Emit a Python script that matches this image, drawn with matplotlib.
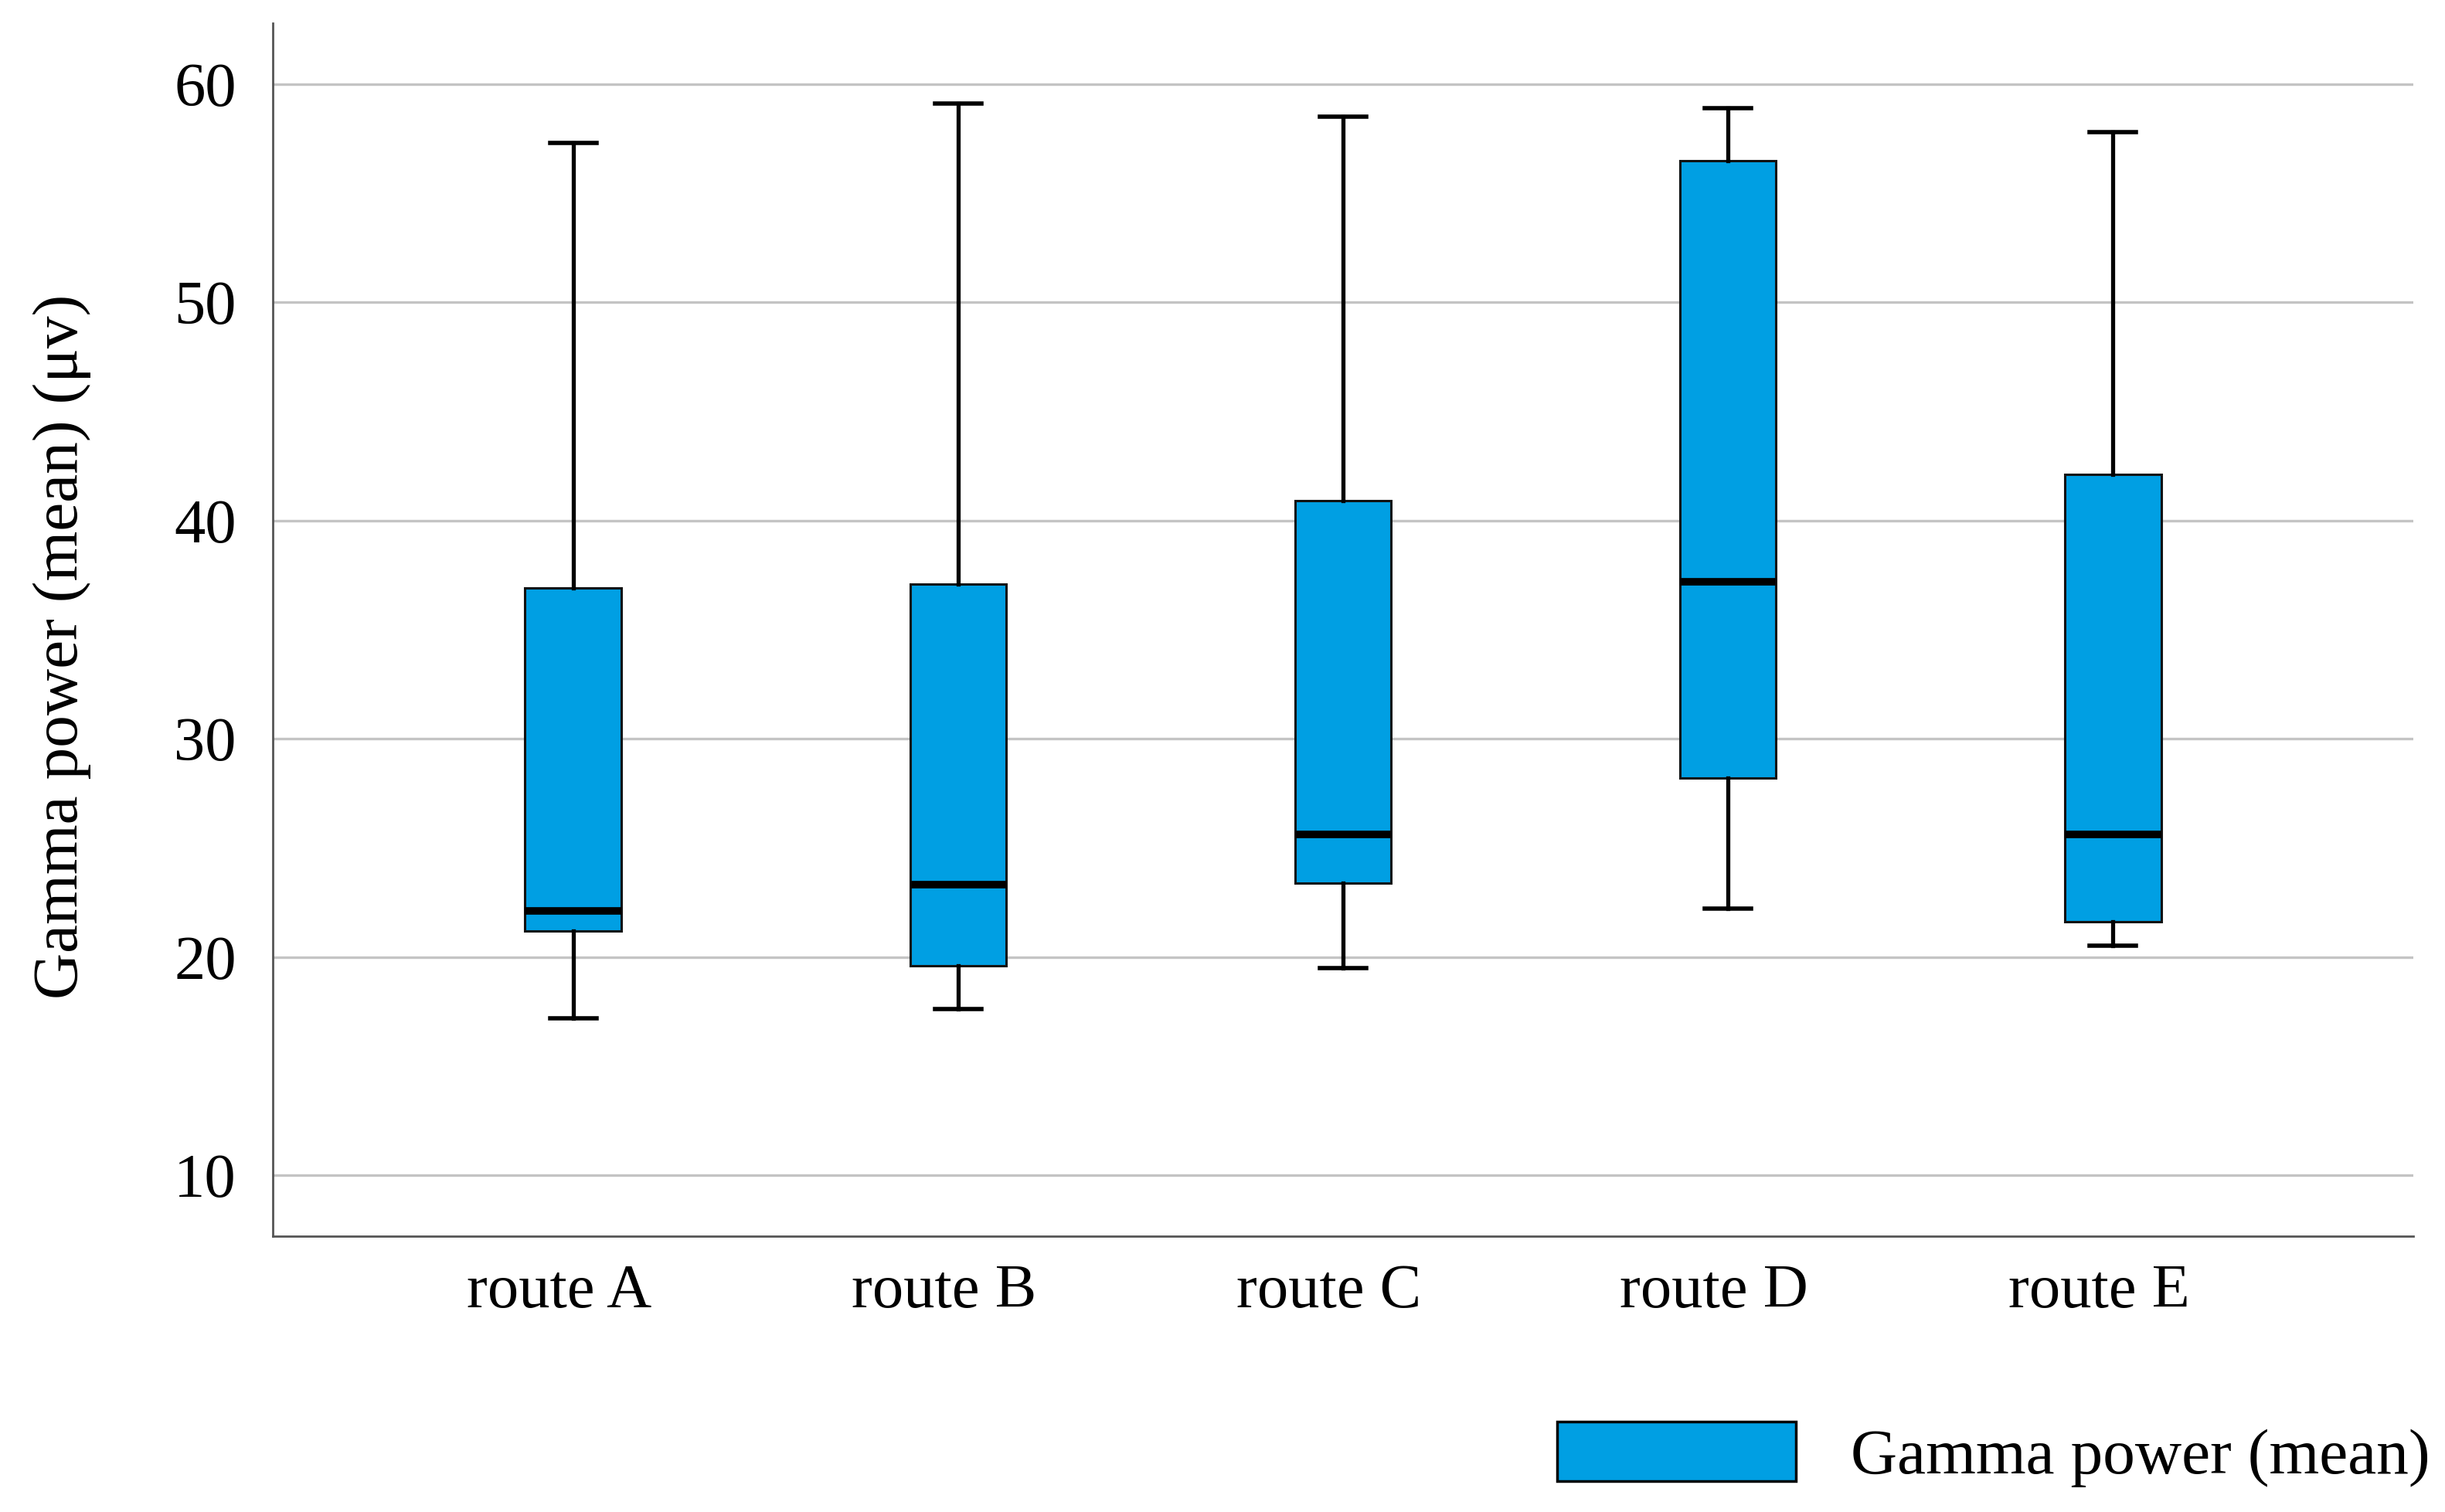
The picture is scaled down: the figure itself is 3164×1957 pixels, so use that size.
import matplotlib
matplotlib.use("Agg")
import matplotlib.pyplot as plt
import matplotlib.transforms as mtransforms
from matplotlib.patches import Patch

# values
routes = ["route A", "route B", "route C", "route D", "route E"]
whisker_low = [17.2, 17.6, 19.5, 22.2, 20.5]
q1 = [21.2, 19.6, 23.4, 28.2, 21.6]
medians = [22.1, 23.3, 25.6, 37.2, 25.6]
q3 = [36.9, 37.1, 40.9, 56.5, 42.1]
whisker_high = [57.3, 59.1, 58.5, 58.9, 57.8]
y_ticks = [10, 20, 30, 40, 50, 60]

box_color = "#009FE3"
plt.rcParams["font.family"] = ["Liberation Serif", "DejaVu Serif"]

stats = []
for i, name in enumerate(routes):
    stats.append({"label": name, "whislo": whisker_low[i], "q1": q1[i],
                  "med": medians[i], "q3": q3[i], "whishi": whisker_high[i],
                  "fliers": []})

fig = plt.figure(figsize=(31.64, 19.57), dpi=100)
ax = fig.add_axes([0.1116, 0.1824, 0.8754, 0.8023])

ax.bxp(stats, positions=range(1, len(routes) + 1), widths=0.25,
       patch_artist=True, showfliers=False, capwidths=0.12,
       boxprops=dict(facecolor=box_color, edgecolor="#111111", linewidth=2.2),
       medianprops=dict(color="black", linewidth=7),
       whiskerprops=dict(color="black", linewidth=3.8),
       capprops=dict(color="black", linewidth=4))

ax.set_xlim(0.22, 5.78)
ax.set_ylim(7.2, 62.8)
ax.set_yticks(y_ticks)
ax.yaxis.grid(True, color="#c4c4c4", linewidth=2.4)
ax.set_axisbelow(True)

for side in ["top", "right"]:
    ax.spines[side].set_visible(False)
for side in ["left", "bottom"]:
    ax.spines[side].set_color("#555555")
    ax.spines[side].set_linewidth(2)

ax.tick_params(axis="both", length=0, labelsize=58)
ax.tick_params(axis="y", pad=34)
ax.tick_params(axis="x", pad=26)

# category labels sit a little left of the boxes in the original
shift = mtransforms.ScaledTranslation(-0.18, 0, fig.dpi_scale_trans)
for lab in ax.get_xticklabels():
    lab.set_transform(lab.get_transform() + shift)

ax.set_ylabel("Gamma power (mean) (μv)", fontsize=60)
ax.yaxis.set_label_coords(-0.085, 0.486)

handle = Patch(facecolor=box_color, edgecolor="black", linewidth=2.5)
fig.legend([handle], ["Gamma power (mean)"], loc="center left",
           bbox_to_anchor=(0.637, 0.038), frameon=False, fontsize=60,
           handlelength=3.7, handleheight=1.05, handletextpad=0.85,
           borderpad=0, borderaxespad=0)

fig.savefig("out.png", dpi=100)
